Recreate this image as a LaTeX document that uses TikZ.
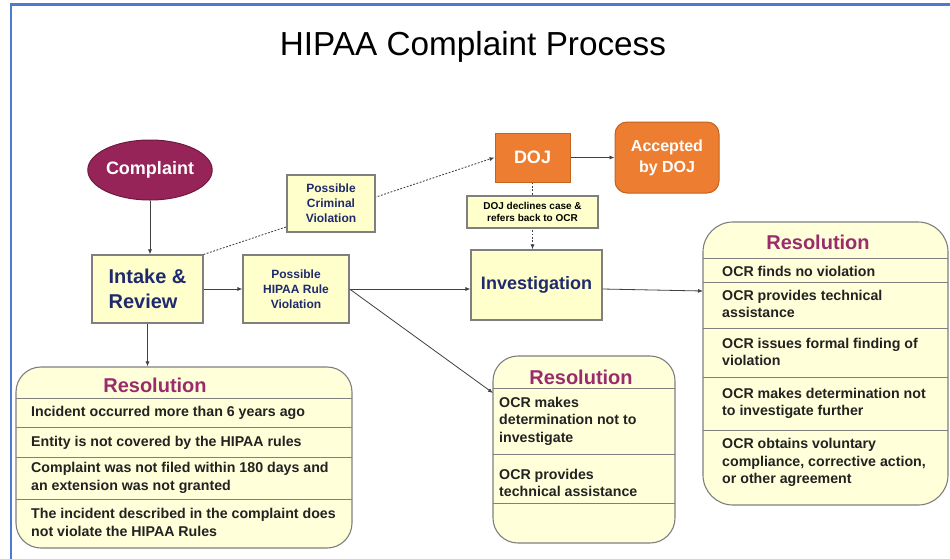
\documentclass[tikz,border=0pt]{standalone}
\usepackage{fontspec}
\setmainfont{Liberation Sans}
\usetikzlibrary{shapes.geometric,arrows.meta}
\definecolor{navy}{HTML}{1F2A6E}
\definecolor{plum}{HTML}{962458}
\definecolor{plumdark}{HTML}{6E1A40}
\definecolor{magenta2}{HTML}{9B2C6C}
\definecolor{lightyellow}{HTML}{FFFFCC}
\definecolor{resyellow}{HTML}{FFFFDA}
\definecolor{boxgray}{HTML}{7F7F7F}
\definecolor{orangefill}{HTML}{ED7D31}
\definecolor{orangedark}{HTML}{C4621F}
\definecolor{frameblue}{HTML}{4A7BD0}
\definecolor{linegray}{HTML}{404040}
\definecolor{itemtext}{HTML}{222222}
\tikzset{
  ybox/.style={draw=boxgray, fill=lightyellow, line width=1.1pt, inner sep=0pt, align=center, text=navy},
  obox/.style={draw=orangedark, fill=orangefill, line width=1pt, inner sep=0pt, align=center, text=white},
  resbox/.style={draw=boxgray, fill=resyellow, line width=1.1pt, inner sep=0pt, rounded corners=#1},
  reshead/.style={text=magenta2, font=\fontsize{20}{22}\selectfont\bfseries, inner sep=0pt},
  item/.style={anchor=west, align=left, inner sep=0pt, text=itemtext, font=\fontsize{14.2}{17.5}\selectfont\bfseries},
  sepline/.style={draw=boxgray, line width=1pt},
  arr/.style={draw=linegray, line width=0.8pt, -{Latex[length=5pt,width=4pt]}},
  dotarr/.style={draw=linegray, line width=0.9pt, dash pattern=on 1.8pt off 1.6pt, -{Latex[length=5pt,width=4pt]}}
}
\begin{document}
\begin{tikzpicture}[x=1pt,y=-1pt]
\useasboundingbox (0,0) rectangle (950,558);
\fill[white] (0,0) rectangle (950,558);
% frame
\draw[frameblue, line width=2.6pt] (11,560) -- (11,4.7) -- (952,4.7);
% title
\node[inner sep=0pt, font=\fontsize{33.3}{37}\selectfont] (title) at (473,47) {HIPAA Complaint Process};

% main nodes
\node[ellipse, fill=plum, draw=plumdark, line width=1pt, minimum width=107pt, minimum height=60pt, inner sep=0pt, text=white, font=\fontsize{18}{20}\selectfont\bfseries]
  (complaint) at (150,170) {Complaint};
\node[ybox, minimum width=111pt, minimum height=68pt, align=left, font=\fontsize{20}{25}\selectfont\bfseries] (intake) at (147.5,289)
  {Intake \&\\Review};
\node[ybox, minimum width=106pt, minimum height=68pt, font=\fontsize{12}{15}\selectfont\bfseries] (hipaa) at (296,289)
  {Possible\\HIPAA Rule\\Violation};
\node[obox, minimum width=75pt, minimum height=49pt, font=\fontsize{18}{20}\selectfont\bfseries] (doj) at (532.5,157.5)
  {DOJ};
\node[obox, rounded corners=12pt, minimum width=104pt, minimum height=71pt, font=\fontsize{16}{21}\selectfont\bfseries] (accepted) at (667,157.5)
  {Accepted\\by DOJ};
\node[ybox, minimum width=131pt, minimum height=70pt, font=\fontsize{18}{20}\selectfont\bfseries] (inv) at (536.5,285)
  {Investigation};

% dotted connectors (drawn beneath the label boxes)
\draw[dotarr] (intake.north east) -- (doj.west);
\draw[dotarr] (doj.south) -- (doj.south |- inv.north);

\node[ybox, minimum width=88pt, minimum height=57pt, font=\fontsize{12}{15}\selectfont\bfseries] (criminal) at (331,203.5)
  {Possible\\Criminal\\Violation};
\node[ybox, minimum width=131pt, minimum height=32pt, text=black, font=\fontsize{10}{12}\selectfont\bfseries] (declines) at (532.5,212)
  {DOJ declines case \&\\refers back to OCR};

% bottom-left resolution
\node[resbox=25pt, minimum width=336pt, minimum height=181pt] (botres) at (184,457.5) {};
\node[reshead] (bothead) at (155,385) {Resolution};
\draw[sepline] (16,398) -- (352,398);
\draw[sepline] (16,427) -- (352,427);
\draw[sepline] (16,457) -- (352,457);
\draw[sepline] (16,499) -- (352,499);
\node[item] (b1) at (31,413) {Incident occurred more than 6 years ago};
\node[item] (b2) at (31,442.5) {Entity is not covered by the HIPAA rules};
\node[item] (b3) at (31,478) {Complaint was not filed within 180 days and\\an extension was not granted};
\node[item] (b4) at (31,522.5) {The incident described in the complaint does\\not violate the HIPAA Rules};

% middle resolution
\node[resbox=25pt, minimum width=182pt, minimum height=187pt] (midres) at (584,449.5) {};
\node[reshead] (midhead) at (581,377.5) {Resolution};
\draw[sepline] (493,388) -- (675,388);
\draw[sepline] (493,454) -- (675,454);
\draw[sepline] (493,503) -- (675,503);
\node[item] (m1) at (499,421) {OCR makes\\determination not to\\investigate};
\node[item] (m2) at (499,483) {OCR provides\\technical assistance};

% right resolution
\node[resbox=30pt, minimum width=245pt, minimum height=283pt] (rightres) at (825.5,363.5) {};
\node[reshead] (righthead) at (818,242) {Resolution};
\draw[sepline] (703,258) -- (948,258);
\draw[sepline] (703,282) -- (948,282);
\draw[sepline] (703,328) -- (948,328);
\draw[sepline] (703,377) -- (948,377);
\draw[sepline] (703,430) -- (948,430);
\node[item] (r1) at (722,271) {OCR finds no violation};
\node[item] (r2) at (722,304) {OCR provides technical\\assistance};
\node[item] (r3) at (722,352) {OCR issues formal finding of\\violation};
\node[item] (r4) at (722,403.5) {OCR makes determination not\\to investigate further};
\node[item] (r5) at (722,462.5) {OCR obtains voluntary\\compliance, corrective action,\\or other agreement};

% solid connectors
\coordinate (midin) at (493,393);
\coordinate (rin) at (703,291);
\draw[arr] (complaint.south) -- (complaint.south |- intake.north);
\draw[arr] (intake.east) -- (hipaa.west);
\draw[arr] (doj.east) -- (accepted.west);
\draw[arr] (hipaa.east) -- (hipaa.east -| inv.west);
\draw[arr] (hipaa.east) -- (midin);
\draw[arr] (inv.east |- hipaa.east) -- (rin);
\draw[arr] (intake.south) -- (intake.south |- botres.north);
\end{tikzpicture}
\end{document}
